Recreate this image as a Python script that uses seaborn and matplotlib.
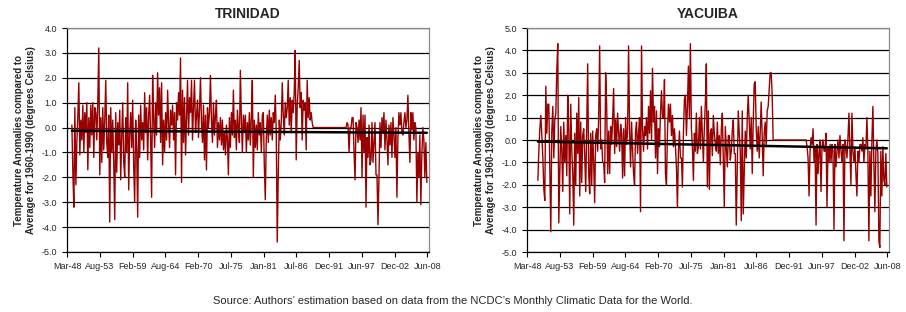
import numpy as np
import pandas as pd
import matplotlib
matplotlib.use('Agg')
import matplotlib.pyplot as plt
import matplotlib.dates as mdates
from matplotlib.ticker import FormatStrFormatter
import seaborn as sns

# Temperature anomalies (deg C vs 1960-1990), every two months
# Trinidad: Jan-1949 .. Mar-1989, then Jan-1995 .. May-2008
trin_1949_1958 = [0.1, -1.8, -3.2, 0.8, -2.3, -0.6,  0.5, 1.8, -1.1, 0.3, -0.5, 0.9,
                  -1.0, 0.6, -0.2, 1.0, -1.7, 0.4,  -0.8, 0.9, -0.3, 1.0, -1.2, 0.8,
                  0.6, -0.5, 1.0, 3.2, -1.9, 0.4,  -1.4, 0.8, -0.9, 0.3, 1.9, -0.6,
                  -1.2, 0.5, -3.8, 0.8, -1.0, 0.3,  -1.5, -3.7, 0.6, -1.8, 0.2, -0.7,
                  0.7, -2.1, -0.4, 1.0, -1.4, -2.0,  0.4, -1.0, 1.8, -2.5, -0.3, 0.6]
trin_1959_1968 = [-0.8, 1.1, -1.5, -3.0, 0.3, -0.9,  -3.6, 0.5, -1.2, 0.9, -0.5, 0.2,
                  -0.9, 1.4, -0.2, 0.8, -1.3, 0.5,  1.3, -0.4, -2.8, 2.1, 0.4, -0.8,
                  1.0, -0.3, 2.2, 0.5, 1.6, -0.6,  1.8, -1.5, 0.3, -1.0, 0.6, -0.5,
                  1.5, 0.2, -0.8, 0.7, 0.1, 0.9,  -0.5, 0.6, -1.9, 1.0, 0.3, 1.4,
                  0.5, 2.8, -2.2, 1.5, -0.6, 1.2,  -1.1, 0.4, 1.9, -0.3, 1.2, 0.6]
trin_1969_1978 = [1.9, -0.5, 0.8, 1.9, -0.2, 0.5,  1.1, -0.4, 0.7, 2.0, 0.2, -0.6,
                  0.9, -1.3, 0.5, -1.7, 0.8, 0.0,  0.6, 2.1, 0.3, -0.6, 1.0, -0.3,
                  0.5, 1.1, -0.8, 0.2, -0.5, 0.4,  -0.7, 0.3, -0.9, -0.2, -1.1, 0.1,
                  -0.5, -1.9, 0.4, -0.8, 0.6, -0.3,  1.5, -0.4, 0.3, -0.9, 0.7, 0.0,
                  -0.6, 2.3, 0.4, -1.0, 0.5, -0.2,  0.5, -1.0, 0.2, -0.5, 0.6, -0.7]
trin_1979_1989 = [0.4, 1.9, -2.0, 0.3, -0.8, 0.1,  -0.9, 0.6, -0.3, 0.2, -1.0, 0.5,
                  0.6, -1.5, -2.9, -0.4, 0.5, -0.6,  0.7, -0.3, 0.4, -0.5, 0.6, 0.2,
                  1.3, -0.2, -4.6, -1.9, 0.3, -0.5,  0.2, 1.8, 0.5, -0.3, 1.0, 0.4,
                  0.8, 1.9, 0.1, 1.2, -0.2, 1.1,  0.6, 1.4, 3.1, -1.3, 0.9, 1.6,
                  2.7, 0.8, 1.4, -0.5, 1.1, 0.7,  1.0, -0.9, 1.9, 0.4, 1.2, 0.3,
                  0.6, 0.2]
trin_1995_2008 = [0.2, 0.1, -1.0, 0.0, 0.0, 0.4,  0.4, -1.0, -2.1, 0.2, 0.0, -0.6,
                  0.3, -0.5, 0.8, -2.0, 0.5, -1.0,  0.5, -3.2, -0.4, -1.2, 0.1, -1.5,
                  -1.3, 0.2, -1.4, -0.6, 0.2, -1.9,  -1.9, -3.9, -2.0, 0.2, -0.8, 0.4,
                  -0.2, 0.6, -0.9, 0.3, -0.5, -1.5,  0.1, -0.7, 0.2, -1.2, 0.4, -0.3,
                  -1.2, 0.0, -2.8, -0.4, 0.6, 0.1,  0.6, -0.2, -0.3, 0.2, 0.6, 0.0,
                  0.3, 1.3, -0.2, -1.4, 0.6, -0.1,  0.6, -0.5, 0.2, 0.0, -3.0, -1.0,
                  -2.0, -0.3, -3.1, -1.1, 0.0, -0.5,  -2.0, -0.6, -2.2]

# Yacuiba: Jan-1950 .. Mar-1989, then Jan-1995 .. May-2008
yac_1950_1959 = [-1.8, -0.5, 0.5, 1.1, 0.2, -0.8,  -2.2, -2.7, 2.4, 0.3, 1.6, 1.6,
                 -1.2, -4.1, 0.4, 1.5, -0.8, 0.9,  1.2, 3.1, 4.3, -3.7, -1.5, 0.6,
                 -0.5, -2.3, 0.8, -1.0, 0.2, -1.6,  2.0, 0.5, -3.3, 1.6, -0.4, -1.5,
                 -3.8, 0.3, -2.0, 1.2, -0.6, 1.9,  -2.5, 0.8, -1.9, 0.2, 0.5, -0.7,
                 -2.3, 0.6, 3.4, -1.5, -2.4, 0.3,  -2.0, 0.4, -1.0, -2.8, 0.2, 0.5]
yac_1960_1969 = [-0.5, 1.0, 4.2, -0.4, 0.0, -1.0,  -1.0, -1.9, 3.0, 1.6, -1.5, 0.4,
                 -1.5, 0.6, -0.2, 0.9, 2.3, -0.6,  0.9, -0.3, 1.2, 0.4, -0.5, 0.7,
                 0.3, -1.7, 0.5, -1.6, 1.0, -0.2,  0.4, 4.2, 0.5, -1.2, 0.8, -0.5,
                 -1.5, -2.0, 0.4, 0.8, -0.6, 0.3,  1.0, -3.2, 4.2, 0.5, -0.5, 0.6,
                 0.2, 1.0, -0.4, 1.5, 0.3, 2.2,  0.0, 3.2, 0.8, 1.5, -0.8, 1.3]
yac_1970_1979 = [-1.5, 0.5, -0.3, 1.2, 2.2, 1.0,  1.0, 2.7, -1.5, -2.0, 0.4, 1.6,
                 0.8, 1.6, 0.2, 1.1, -0.3, 0.5,  -0.3, -1.2, -3.0, -0.5, 0.4, -0.8,
                 -0.8, -2.1, 0.3, 1.8, 2.0, 0.2,  1.5, 3.3, 1.0, 4.3, 0.5, -0.3,
                 -1.8, 0.3, -0.5, 1.2, -0.6, -0.3,  1.0, -0.4, 1.5, 0.2, -1.0, 0.6,
                 1.7, 3.4, -2.1, 1.3, -2.2, 0.3,  0.5, -0.7, 1.1, 0.3, -0.2, -0.5]
yac_1980_1989 = [0.8, -0.6, 0.2, -1.1, 0.5, 1.2,  -1.0, -3.0, 0.6, -0.3, -1.2, 0.2,
                 0.2, -0.9, -0.5, 0.4, 0.9, -0.6,  -0.6, -3.8, -1.2, 1.3, 0.3, -0.5,
                 -3.6, 1.3, -3.3, -1.5, 0.4, -0.8,  1.0, 2.0, 0.8, -0.4, 1.0, -1.5,
                 0.8, 2.5, 2.6, 0.5, -0.5, 0.6,  -0.8, 0.3, 1.7, 0.2, -1.6, 0.3,
                 0.8, -0.3, 1.3, 1.5, 2.3, 3.0,  3.0, 2.0]
yac_1995_2008 = [-0.3, -0.8, -2.5, -0.5, 0.1, -0.2,  0.5, -1.0, -0.3, -3.8, -0.2, -1.5,
                 -0.5, 0.0, -2.3, -0.3, 0.0, -0.5,  -0.5, 0.3, -3.0, -0.3, -1.0, -0.2,
                 -1.0, -0.2, -0.5, -4.0, -0.2, -1.2,  -0.5, 0.0, -0.8, 0.2, -0.5, -1.0,
                 -0.2, -4.5, 0.0, -0.3, -0.8, 0.1,  1.2, -0.5, -2.0, 1.2, -0.5, -1.0,
                 -0.3, -1.5, -2.5, -0.5, -1.0, -0.2,  -0.2, -0.5, 0.1, -1.0, -0.2, -0.4,
                 1.0, -0.5, -4.5, -0.5, -2.5, 0.0,  1.5, -1.0, -3.2, -0.5, 0.0, -0.6,
                 -4.5, -4.8, -0.5, -2.5, -0.3, -1.8,  -2.0, -0.6, -2.1]

# linear trend lines (value at first and last point)
trin_trend = [-0.13, -0.21]
yac_trend = [-0.07, -0.37]

titles = ['TRINIDAD', 'YACUIBA']
ylims = [(-5, 4), (-5, 5)]
ylabel = 'Temperature Anomalies compared to\nAverage for 1960-1990 (degrees Celsius)'
source = "Source: Authors\u2019 estimation based on data from the NCDC\u2019s Monthly Climatic Data for the World."


def build(first, first_start, second, second_start):
    a = pd.Series(first, index=pd.date_range(first_start, periods=len(first), freq='2MS'))
    b = pd.Series(second, index=pd.date_range(second_start, periods=len(second), freq='2MS'))
    s = pd.concat([a, b])
    # missing months show as zero in the original chart
    full = pd.date_range(s.index[0], s.index[-1], freq='2MS')
    s = s.reindex(full, fill_value=0.0)
    return pd.DataFrame({'date': s.index, 'anomaly': s.values})


trin = build(trin_1949_1958 + trin_1959_1968 + trin_1969_1978 + trin_1979_1989, '1949-01-01',
             trin_1995_2008, '1995-01-01')
yac = build(yac_1950_1959 + yac_1960_1969 + yac_1970_1979 + yac_1980_1989, '1950-01-01',
            yac_1995_2008, '1995-01-01')

sns.set_theme(style='white')
plt.rcParams['font.family'] = ['Liberation Sans', 'DejaVu Sans']

fig = plt.figure(figsize=(9.06, 3.12), dpi=100)
ax1 = fig.add_axes([67 / 906, 60 / 312, 362 / 906, 224 / 312])
ax2 = fig.add_axes([527 / 906, 60 / 312, 362 / 906, 224 / 312])

start = pd.Timestamp('1948-03-09')
xticks = [start + pd.Timedelta(days=2000 * k) for k in range(12)]

for ax, df, trend, title, ylim in zip([ax1, ax2], [trin, yac], [trin_trend, yac_trend], titles, ylims):
    sns.lineplot(data=df, x='date', y='anomaly', ax=ax, color='#990000', linewidth=1.0)
    tdf = pd.DataFrame({'date': [df['date'].iloc[0], df['date'].iloc[-1]], 'anomaly': trend})
    sns.lineplot(data=tdf, x='date', y='anomaly', ax=ax, color='black', linewidth=1.8)

    ax.set_xlim(start, pd.Timestamp('2008-09-10'))
    ax.set_ylim(*ylim)
    ax.set_yticks(np.arange(ylim[0], ylim[1] + 0.1, 1))
    ax.yaxis.set_major_formatter(FormatStrFormatter('%.1f'))
    ax.set_xticks(xticks)
    ax.xaxis.set_major_formatter(mdates.DateFormatter('%b-%y'))
    ax.tick_params(axis='both', labelsize=6.5, length=3.5, width=0.8, color='black',
                   direction='out', left=True, bottom=True)
    ax.tick_params(axis='x', pad=4)
    ax.tick_params(axis='y', pad=3.5)
    ax.yaxis.grid(True, color='black', linewidth=0.9)
    ax.set_axisbelow(True)
    for side in ['top', 'right']:
        ax.spines[side].set_color('#888888')
        ax.spines[side].set_linewidth(0.9)
    for side in ['left', 'bottom']:
        ax.spines[side].set_color('black')
        ax.spines[side].set_linewidth(0.9)
    ax.set_title(title, fontsize=10, fontweight='bold', pad=7)
    ax.set_xlabel('')
    ax.set_ylabel(ylabel, fontsize=7, fontweight='bold', labelpad=4, linespacing=1.25)

fig.text(0.5, 0.035, source, ha='center', va='center', fontsize=8)

fig.savefig('out.png', dpi=100)
